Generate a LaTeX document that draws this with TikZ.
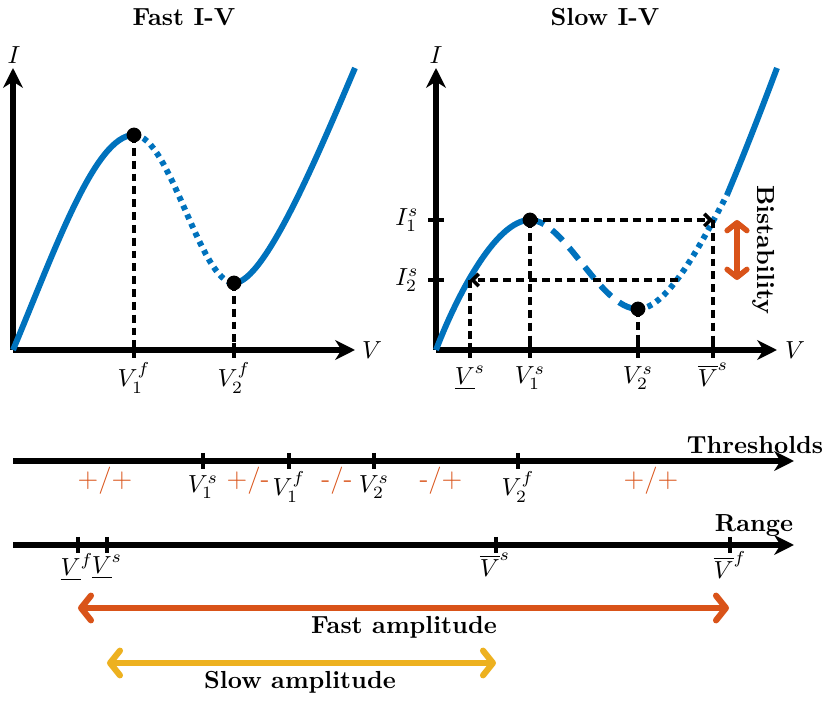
\documentclass[tikz,border=0pt]{standalone}
\usetikzlibrary{arrows.meta}
\definecolor{mblue}{RGB}{0,114,189}
\definecolor{morange}{RGB}{217,83,25}
\definecolor{myellow}{RGB}{237,177,32}
\begin{document}
\begin{tikzpicture}[x=0.405pt,y=-0.405pt,
 axis/.style={line width=2.1pt,-{Stealth[length=8pt,width=8pt,inset=2.5pt]}},
 curve/.style={mblue,line width=2.4pt},
 dotc/.style={curve,dash pattern=on 2pt off 2pt},
 dashc/.style={curve,dash pattern=on 6pt off 4pt},
 guide/.style={line width=1.5pt,dash pattern=on 3.2pt off 2pt},
 tickmark/.style={line width=1.5pt},
 blackpt/.style={circle,fill=black,inner sep=0pt,minimum size=6pt},
 title/.style={font=\bfseries},
 sign/.style={text=morange,font=\fontsize{11}{13}\selectfont},
 barb/.tip={Straight Barb[round,length=4pt,width=10pt]},
 amp/.style={line width=2.5pt,line cap=round,barb-barb}
]
\useasboundingbox (0,0) rectangle (831,701);

% ---------- titles ----------
\node[title] (tf) at (184,17) {Fast I-V};
\node[title] (ts) at (605,17) {Slow I-V};

% ---------- fast plot ----------
\coordinate (fo) at (13,350);
\coordinate (fy) at (13,68);
\coordinate (fx) at (355,350);
\draw[axis] (fo) -- (fy);
\draw[axis] (fo) -- (fx);
\node (fI) at (14,55) {$I$};
\node (fV) at (372,350) {$V$};

\coordinate (f1) at (134,135);
\coordinate (f2) at (234,283);
\coordinate (fe) at (355,68);
\draw[curve] (fo) .. controls (55,250) and (95,135) .. (f1);
\draw[dotc] (f1) .. controls (170,135) and (200,283) .. (f2);
\draw[curve] (f2) .. controls (265,283) and (320,150) .. (fe);

\draw[guide] (f1) -- (f1 |- fo);
\draw[guide] (f2) -- (f2 |- fo);
\draw[tickmark] (134,343) -- (134,358);
\draw[tickmark] (234,343) -- (234,358);
\node[blackpt] (F1) at (f1) {};
\node[blackpt] (F2) at (f2) {};
\node (lf1) at (134,378) {$V_1^f$};
\node (lf2) at (234,378) {$V_2^f$};

% ---------- slow plot ----------
\coordinate (so) at (436,350);
\coordinate (sy) at (436,68);
\coordinate (sx) at (777,350);
\draw[axis] (so) -- (sy);
\draw[axis] (so) -- (sx);
\node (sI) at (436,55) {$I$};
\node (sV) at (795,350) {$V$};

\coordinate (s1) at (530,220);
\coordinate (s2) at (638,309);
\coordinate (s3) at (727,195);
\coordinate (se) at (777,68);
\draw[curve] (so) .. controls (455,300) and (495,220) .. (s1);
\draw[dashc] (s1) .. controls (565,220) and (600,309) .. (s2);
\draw[dotc] (s2) .. controls (668,309) and (703,240) .. (s3);
\draw[curve] (s3) .. controls (745,152) and (762,108) .. (se);

\coordinate (rA) at (713,220);
\coordinate (rB) at (678,280);
\coordinate (lA) at (470,280);
\draw[guide,-{Straight Barb[length=2.5pt,width=5pt]}] (s1) -- (rA);
\draw[guide] (rA) -- (rA |- so);
\draw[guide,-{Straight Barb[length=2.5pt,width=5pt]}] (rB) -- (lA);
\draw[guide] (lA) -- (lA |- so);
\draw[guide] (s1) -- (s1 |- so);
\draw[guide] (s2) -- (s2 |- so);

\draw[tickmark] (428,220) -- (444,220);
\draw[tickmark] (428,280) -- (444,280);
\foreach \xx in {470,530,638,713} \draw[tickmark] (\xx,343) -- (\xx,358);

\node[blackpt] (S1) at (s1) {};
\node[blackpt] (S2) at (s2) {};

\node (li1) at (407,220) {$I_1^s$};
\node (li2) at (407,280) {$I_2^s$};
\node (ls0) at (470,378) {$\underline{V}^s$};
\node (ls1) at (530,378) {$V_1^s$};
\node (ls2) at (638,378) {$V_2^s$};
\node (ls3) at (713,375) {$\overline{V}^s$};

\coordinate (bt) at (737,220);
\coordinate (bb) at (737,280);
\draw[morange,line width=2.2pt,line cap=round,
  {Straight Barb[round,length=3.2pt,width=8pt]}-{Straight Barb[round,length=3.2pt,width=8pt]}] (bt) -- (bb);
\node[title,rotate=-90] (bis) at (764,250) {Bistability};

% ---------- thresholds ----------
\coordinate (t0) at (13,461);
\coordinate (t1) at (794,461);
\draw[axis] (t0) -- (t1);
\node[title] (tth) at (755,445) {Thresholds};
\foreach \xx in {203,289,374,518} \draw[tickmark] (\xx,453) -- (\xx,469);
\node (tv1) at (203,487) {$V_1^s$};
\node (tv2) at (289,487) {$V_1^f$};
\node (tv3) at (374,487) {$V_2^s$};
\node (tv4) at (518,487) {$V_2^f$};
\node[sign] (sg1) at (105,481) {+/+};
\node[sign] (sg2) at (248,481) {+/-};
\node[sign] (sg3) at (337,481) {-/-};
\node[sign] (sg4) at (441,481) {-/+};
\node[sign] (sg5) at (651,481) {+/+};

% ---------- range ----------
\coordinate (r0) at (13,545);
\coordinate (r1) at (794,545);
\draw[axis] (r0) -- (r1);
\node[title] (trg) at (754,526) {Range};
\foreach \xx in {78,107,496,730} \draw[tickmark] (\xx,537) -- (\xx,553);
\node (rv1) at (77,567) {$\underline{V}^f$};
\node (rv2) at (107,567) {$\underline{V}^s$};
\node (rv3) at (495,565) {$\overline{V}^s$};
\node (rv4) at (730,565) {$\overline{V}^f$};

% ---------- amplitudes ----------
\coordinate (fa0) at (78,608);
\coordinate (fa1) at (729,608);
\draw[amp,morange] (fa0) -- (fa1);
\node[title] (fal) at (404,627) {Fast amplitude};
\coordinate (sa0) at (107,663);
\coordinate (sa1) at (496,663);
\draw[amp,myellow] (sa0) -- (sa1);
\node[title] (sal) at (300,682) {Slow amplitude};
\end{tikzpicture}
\end{document}
